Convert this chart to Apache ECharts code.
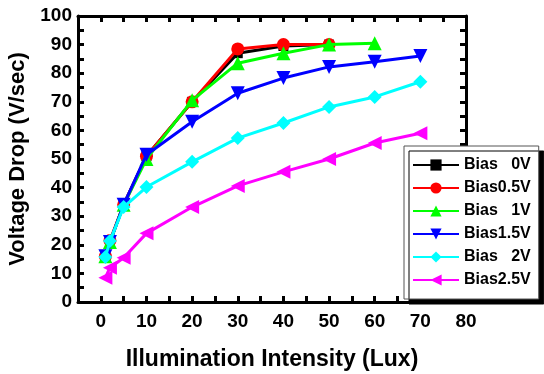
<!DOCTYPE html>
<html>
<head>
<meta charset="utf-8">
<script src="https://cdn.jsdelivr.net/npm/echarts@6/dist/echarts.min.js"></script>
<style>
  html, body { margin: 0; padding: 0; background: #fff; }
  #chart { width: 544px; height: 374px; }
</style>
</head>
<body>
<div id="chart"></div>
<script>
// illumination (Lux)
const xLux = [1, 2, 5, 10, 20, 30, 40, 50, 60, 70]
const bias0 = [16, 21, 34, 51, 70, 87, 89.5, 90]
const bias05 = [16, 21.5, 34, 51, 70, 88.5, 90, 90]
const bias1 = [16, 21, 34, 50, 70.5, 83.5, 87, 90, 90.5]
const bias15 = [16, 21, 34, 51.5, 63, 73, 78.3, 82.2, 84, 86]
const bias2 = [15.7, 21.3, 33.2, 40.2, 49, 57.3, 62.6, 68.2, 71.7, 77]
const bias25 = [8.5, 12, 15.5, 24, 33.2, 40.6, 45.5, 50, 55.6, 59]
const names = ['Bias   0V', 'Bias0.5V', 'Bias   1V', 'Bias1.5V', 'Bias   2V', 'Bias2.5V']
const xLabels = [0, 10, 20, 30, 40, 50, 60, 70, 80]
const xTicks = [0, 5, 10, 15, 20, 25, 30, 35, 40, 45, 50, 55, 60, 65, 70, 75, 80]
const yTicks = [0, 5, 10, 15, 20, 25, 30, 35, 40, 45, 50, 55, 60, 65, 70, 75, 80, 85, 90, 95, 100]
const colors = ['#000000', '#ff0000', '#00ff00', '#0000ff', '#00ffff', '#ff00ff']
const symbols = ['rect', 'circle', 'triangle', 'triangle', 'diamond', 'triangle']
const rotates = [0, 0, 0, 180, 0, 90]
const sizes = [10, 13, 14, 14, 14, 14]
const allData = [bias0, bias05, bias1, bias15, bias2, bias25]

const font = 'Liberation Sans, Arial, sans-serif'
const myChart = echarts.init(document.getElementById('chart'))

// inward ticks come from axes of thin helper grids sitting just outside
// each edge of the plot, drawn as outside ticks
function tickAxis(grid, pos, vals, lo, hi) {
    return {
        type: 'value', gridIndex: grid, min: lo, max: hi, position: pos,
        axisLine: { show: false, onZero: false },
        axisTick: { show: true, inside: false, length: 6, customValues: vals, lineStyle: { width: 3, color: '#000' } },
        splitLine: { show: false }, axisLabel: { show: false }
    }
}
function frameAxis(pos, lo, hi) {
    return {
        type: 'value', min: lo, max: hi, position: pos,
        axisLine: { show: true, onZero: false, lineStyle: { width: 3, color: '#000' } },
        axisTick: { show: false }, splitLine: { show: false }, axisLabel: { show: false }
    }
}
function dummy(grid) {
    return { type: 'value', gridIndex: grid, show: false, min: 0, max: 1, axisLine: { onZero: false } }
}
const labelStyle = { fontFamily: font, fontWeight: 'bold', fontSize: 19, color: '#000' }

const series = allData.map((vals, i) => ({
    name: names[i],
    type: 'line',
    data: vals.map((v, j) => [xLux[j], v]),
    symbol: symbols[i],
    symbolSize: sizes[i],
    symbolRotate: rotates[i],
    color: colors[i],
    lineStyle: { width: 3, color: colors[i] },
    itemStyle: { color: colors[i] },
    z: 10 + i
}))

const xMain = frameAxis('bottom', -5, 80)
Object.assign(xMain, {
    name: 'Illumination Intensity (Lux)',
    nameLocation: 'middle', nameGap: 46,
    nameTextStyle: { fontFamily: font, fontWeight: 'bold', fontSize: 23, color: '#000' },
    axisLabel: Object.assign({ show: true, margin: 10, customValues: xLabels }, labelStyle)
})
const yMain = frameAxis('left', 0, 100)
Object.assign(yMain, {
    interval: 10,
    name: 'Voltage Drop (V/sec)',
    nameLocation: 'middle', nameGap: 46,
    nameTextStyle: { fontFamily: font, fontWeight: 'bold', fontSize: 22, color: '#000' },
    axisLabel: Object.assign({ show: true, margin: 6 }, labelStyle)
})

const gridBase = { show: false, outerBoundsMode: 'none', containLabel: false }
const option = {
    animation: false,
    grid: [
        Object.assign({ left: 78, right: 78, top: 16, bottom: 72 }, gridBase),
        Object.assign({ left: 78, right: 78, top: 302, bottom: 0 }, gridBase),
        Object.assign({ left: 78, right: 78, top: 0, bottom: 358 }, gridBase),
        Object.assign({ left: 0, right: 466, top: 16, bottom: 72 }, gridBase),
        Object.assign({ left: 466, right: 0, top: 16, bottom: 72 }, gridBase)
    ],
    legend: {
        orient: 'vertical',
        left: 404,
        top: 146,
        padding: [11, 8, 11, 8],
        itemWidth: 46,
        itemHeight: 14,
        itemGap: 7,
        backgroundColor: '#fff',
        borderColor: '#555',
        borderWidth: 1,
        shadowColor: '#000',
        shadowOffsetX: 5,
        shadowOffsetY: 5,
        shadowBlur: 0,
        textStyle: { fontFamily: font, fontWeight: 'bold', fontSize: 16, color: '#000' },
        data: names
    },
    xAxis: [
        xMain,
        frameAxis('top', -5, 80),
        tickAxis(1, 'top', xTicks, -5, 80),
        tickAxis(2, 'bottom', xTicks, -5, 80),
        dummy(3),
        dummy(4)
    ],
    yAxis: [
        yMain,
        frameAxis('right', 0, 100),
        dummy(1),
        dummy(2),
        tickAxis(3, 'right', yTicks, 0, 100),
        tickAxis(4, 'left', yTicks, 0, 100)
    ],
    series: series
}
myChart.setOption(option)
</script>
</body>
</html>
